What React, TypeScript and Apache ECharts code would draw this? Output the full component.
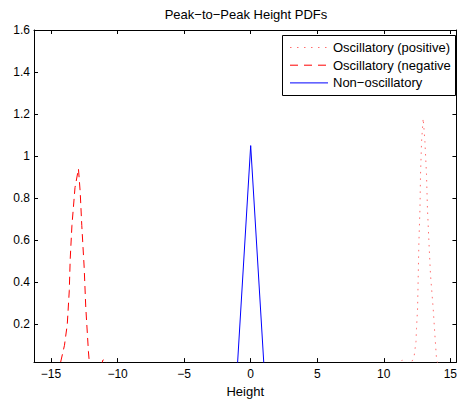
import React, { useEffect, useRef } from "react";
import * as echarts from "echarts";

const titleText = "Peak\u2212to\u2212Peak Height PDFs";
const xAxisName = "Height";
const seriesNames = ["Oscillatory (positive)", "Oscillatory (negative", "Non\u2212oscillatory"];
const seriesColors = ["rgb(255,110,110)", "#ff0000", "#0000ff"];

const xTicks = [-15, -10, -5, 0, 5, 10, 15];
const yTicks = [0.2, 0.4, 0.6, 0.8, 1, 1.2, 1.4, 1.6];

const positiveSeries: [number, number][] = [
  [10.5, 0], [11.1, 0.01], [11.39, 0.03], [11.7, 0.012], [12.09, 0.02], [12.27, 0.043],
  [12.42, 0.118], [12.46, 0.181], [12.54, 0.276], [12.59, 0.435], [12.64, 0.594],
  [12.72, 0.752], [12.76, 0.911], [12.84, 1.07], [12.96, 1.18], [13.09, 1.07],
  [13.21, 0.911], [13.28, 0.752], [13.39, 0.594], [13.51, 0.435], [13.71, 0.276],
  [13.84, 0.149], [13.96, 0.038], [14.1, 0], [15, 0],
];

const negativeSeries: [number, number][] = [
  [-15, 0], [-14.35, 0], [-13.99, 0.1], [-13.78, 0.2], [-13.63, 0.36], [-13.56, 0.51],
  [-13.43, 0.67], [-13.2, 0.85], [-12.94, 0.94], [-12.81, 0.83], [-12.69, 0.67],
  [-12.51, 0.47], [-12.39, 0.28], [-12.19, 0.07], [-12.1, 0], [-11.25, 0],
  [-11.1, 0.03], [-11.0, 0.032], [-10.9, 0.03], [-10.75, 0], [-10, 0],
];

const nonOscSeries: [number, number][] = [
  [-2, 0], [-1, 0], [0, 1.05], [1, 0], [2, 0],
];

const FONT = "'Liberation Sans', Arial, Helvetica, sans-serif";
const fmtMinus = (v: number) => String(v).replace("-", "\u2212");

export default function App() {
  const ref = useRef<HTMLDivElement>(null);
  useEffect(() => {
    if (!ref.current) return;
    const chart = echarts.init(ref.current, undefined, { renderer: "svg" });
    const axisLine = { show: true, onZero: false, lineStyle: { color: "#000", width: 1 } };
    const dashTypes: any[] = [[1.5, 5], [8, 5], "solid"];
    const legendDash: any[] = [[1.5, 5.5], [8, 6], null];
    const X_MIN = -16.28;
    const X_MAX = 15.46;

    const legendElements: any[] = [
      {
        type: "rect",
        shape: { x: 282.5, y: 35.5, width: 173, height: 60 },
        style: { fill: "#fff", stroke: "#000", lineWidth: 1 },
        z: 100,
      },
    ];
    seriesNames.forEach((name, i) => {
      const y = 47.5 + i * 17.7;
      legendElements.push({
        type: "line",
        shape: { x1: 290, y1: y, x2: 328, y2: y },
        style: { stroke: seriesColors[i], lineWidth: 1, lineDash: legendDash[i] || undefined },
        z: 101,
      });
      legendElements.push({
        type: "text",
        x: 333,
        y,
        style: {
          text: name,
          fontSize: 13,
          fontFamily: FONT,
          fill: "#000",
          verticalAlign: "middle",
          align: "left",
        },
        z: 101,
      });
    });

    chart.setOption({
      animation: false,
      backgroundColor: "#fff",
      title: {
        text: titleText,
        left: 246,
        textAlign: "center",
        top: 8,
        padding: 0,
        textStyle: { fontSize: 13, fontWeight: "normal", color: "#000", fontFamily: FONT },
      },
      graphic: legendElements,
      grid: { left: 34, right: 1.5, top: 30, bottom: 39, containLabel: false },
      xAxis: [
        {
          type: "value",
          position: "bottom",
          min: X_MIN,
          max: X_MAX,
          name: xAxisName,
          nameLocation: "middle",
          nameGap: 21,
          nameTextStyle: { fontSize: 13, color: "#000", fontFamily: FONT },
          axisLine,
          axisTick: { show: true, inside: true, length: 4, customValues: xTicks, lineStyle: { color: "#000" } },
          axisLabel: { show: true, customValues: xTicks, formatter: fmtMinus, fontSize: 12, color: "#000", fontFamily: FONT, margin: 6 },
          splitLine: { show: false },
        },
        {
          type: "value",
          position: "top",
          min: X_MIN,
          max: X_MAX,
          axisLine,
          axisTick: { show: true, inside: true, length: 4, customValues: xTicks, lineStyle: { color: "#000" } },
          axisLabel: { show: false },
          splitLine: { show: false },
        },
      ],
      yAxis: [
        {
          type: "value",
          position: "left",
          min: 0.02,
          max: 1.6,
          axisLine,
          axisTick: { show: true, inside: true, length: 4, customValues: yTicks, lineStyle: { color: "#000" } },
          axisLabel: { show: true, customValues: yTicks, formatter: (v: number) => String(v), fontSize: 12, color: "#000", fontFamily: FONT, margin: 4 },
          splitLine: { show: false },
        },
        {
          type: "value",
          position: "right",
          min: 0.02,
          max: 1.6,
          axisLine,
          axisTick: { show: true, inside: true, length: 4, customValues: yTicks, lineStyle: { color: "#000" } },
          axisLabel: { show: false },
          splitLine: { show: false },
        },
      ],
      series: seriesNames.map((name, i) => ({
        name,
        type: "line",
        data: [positiveSeries, negativeSeries, nonOscSeries][i],
        symbol: "none",
        clip: true,
        color: seriesColors[i],
        lineStyle: { color: seriesColors[i], width: 1, type: dashTypes[i] },
        itemStyle: { color: seriesColors[i] },
      })),
    });
    return () => chart.dispose();
  }, []);
  return (
    <div
      ref={ref}
      style={{ position: "absolute", left: 0, top: 0, width: 460, height: 403 }}
    />
  );
}
